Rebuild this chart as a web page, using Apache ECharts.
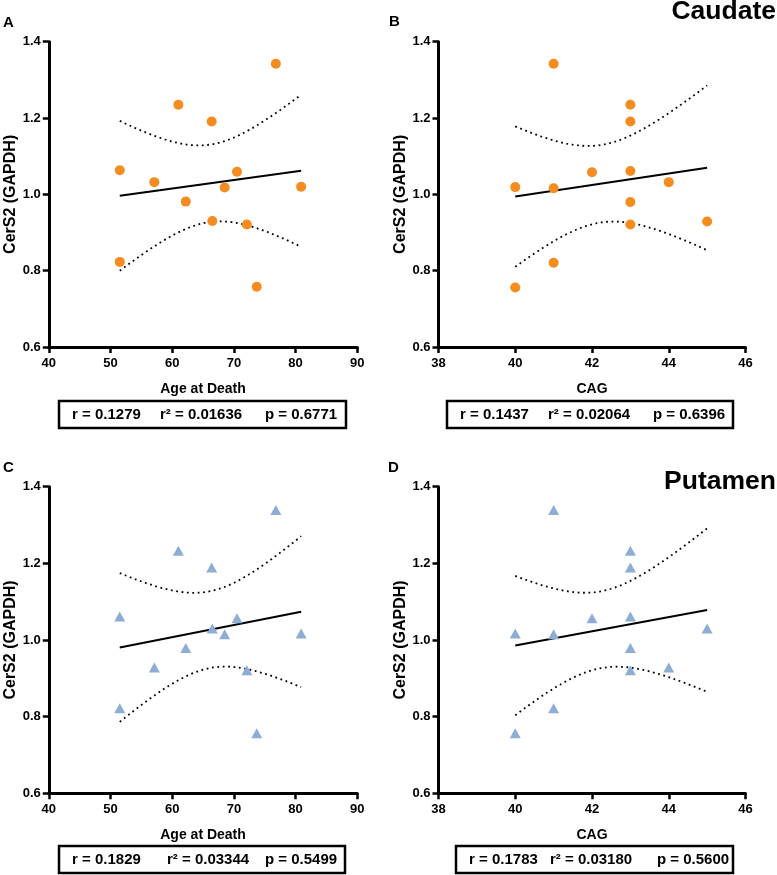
<!DOCTYPE html>
<html><head><meta charset="utf-8">
<script src="https://cdn.jsdelivr.net/npm/echarts@6/dist/echarts.min.js"></script>
<style>html,body{margin:0;padding:0;background:#fff}#c{width:777px;height:875px}</style>
</head><body><div id="c"></div>
<script>
// ---- data ----
const ageCaudate = [51.5, 51.5, 57.1, 61.0, 62.2, 66.4, 66.5, 68.5, 70.5, 72.1, 73.7, 76.8, 80.9];
const cers2CaudateByAge = [1.063, 0.823, 1.032, 1.235, 0.981, 1.191, 0.930, 1.018, 1.059, 0.921, 0.758, 1.342, 1.020];
const cagCaudate = [40, 40, 41, 41, 41, 42, 43, 43, 43, 43, 43, 44, 45];
const cers2CaudateByCag = [1.019, 0.756, 1.342, 1.016, 0.821, 1.058, 1.235, 1.191, 1.061, 0.980, 0.921, 1.032, 0.929];
const agePutamen = [51.5, 51.5, 57.1, 61.0, 62.2, 66.4, 66.5, 68.5, 70.5, 72.1, 73.7, 76.8, 80.9];
const cers2PutamenByAge = [1.061, 0.822, 0.928, 1.233, 0.979, 1.189, 1.030, 1.015, 1.057, 0.921, 0.757, 1.339, 1.017];
const cagPutamen = [40, 40, 41, 41, 41, 42, 43, 43, 43, 43, 43, 44, 45];
const cers2PutamenByCag = [1.017, 0.757, 1.339, 1.015, 0.822, 1.057, 1.233, 1.189, 1.061, 0.979, 0.921, 0.928, 1.030];

const ageTicks = [40, 50, 60, 70, 80, 90];
const cagTicks = [38, 40, 42, 44, 46];
const yTicks = [0.6, 0.8, 1.0, 1.2, 1.4];

const panelLetters = ['A', 'B', 'C', 'D'];
const regionTitles = ['Caudate', 'Putamen'];
const xNames = ['Age at Death', 'CAG', 'Age at Death', 'CAG'];
const yName = 'CerS2 (GAPDH)';
const statR = ['0.1279', '0.1437', '0.1829', '0.1783'];
const statR2 = ['0.01636', '0.02064', '0.03344', '0.03180'];
const statP = ['0.6771', '0.6396', '0.5499', '0.5600'];
const tCrit = 2.201; // t(0.975, df = 11), 95% confidence band

// ---- linear regression + 95% CI band of the mean, computed from the data ----
function regress(xs, ys) {
  const n = xs.length;
  const mx = xs.reduce((a, b) => a + b, 0) / n;
  const my = ys.reduce((a, b) => a + b, 0) / n;
  let sxx = 0, sxy = 0;
  for (let i = 0; i < n; i++) { sxx += (xs[i] - mx) ** 2; sxy += (xs[i] - mx) * (ys[i] - my); }
  const b = sxy / sxx, a = my - b * mx;
  let sse = 0;
  for (let i = 0; i < n; i++) sse += (ys[i] - a - b * xs[i]) ** 2;
  const s = Math.sqrt(sse / (n - 2));
  const x0 = Math.min(...xs), x1 = Math.max(...xs);
  const fit = [[x0, a + b * x0], [x1, a + b * x1]];
  const up = [], lo = [];
  const steps = 60;
  for (let k = 0; k <= steps; k++) {
    const x = x0 + (x1 - x0) * k / steps;
    const yh = a + b * x;
    const h = tCrit * s * Math.sqrt(1 / n + (x - mx) ** 2 / sxx);
    up.push([x, yh + h]); lo.push([x, yh - h]);
  }
  return { fit, up, lo };
}

const FONT = '"Liberation Sans", Arial, sans-serif';
const orange = '#F68B1F';
const blue = '#8EADD5';

const panels = [
  { xs: ageCaudate, ys: cers2CaudateByAge, ticks: ageTicks, color: orange, symbol: 'circle', size: 10 },
  { xs: cagCaudate, ys: cers2CaudateByCag, ticks: cagTicks, color: orange, symbol: 'circle', size: 10 },
  { xs: agePutamen, ys: cers2PutamenByAge, ticks: ageTicks, color: blue, symbol: 'triangle', size: [11, 10] },
  { xs: cagPutamen, ys: cers2PutamenByCag, ticks: cagTicks, color: blue, symbol: 'triangle', size: [11, 10] }
];
const grids = [
  { left: 48.8, top: 41.7, width: 308.5, height: 305.3 },
  { left: 438.5, top: 41.7, width: 307, height: 305.3 },
  { left: 48.8, top: 486.7, width: 308.5, height: 306.6 },
  { left: 438.5, top: 486.7, width: 307, height: 306.6 }
];

const axisLineStyle = { color: '#000', width: 3 };
const xAxis = [], yAxis = [], series = [];
panels.forEach((p, i) => {
  const t = p.ticks;
  xAxis.push({
    type: 'value', gridIndex: i, min: t[0], max: t[t.length - 1], interval: t[1] - t[0],
    name: xNames[i], nameLocation: 'middle', nameGap: 35,
    nameTextStyle: { fontFamily: FONT, fontWeight: 'bold', fontSize: 14, color: '#000' },
    axisLine: { show: true, onZero: false, lineStyle: axisLineStyle },
    axisTick: { show: true, length: 6, lineStyle: { color: '#000', width: 2.5 } },
    axisLabel: { fontFamily: FONT, fontWeight: 'bold', fontSize: 13, color: '#000', margin: 10 },
    splitLine: { show: false }
  });
  yAxis.push({
    type: 'value', gridIndex: i, min: yTicks[0], max: yTicks[yTicks.length - 1], interval: 0.2,
    name: yName, nameLocation: 'middle', nameGap: 30, nameRotate: 90,
    nameTextStyle: { fontFamily: FONT, fontWeight: 'bold', fontSize: 16, color: '#000' },
    axisLine: { show: true, onZero: false, lineStyle: axisLineStyle },
    axisTick: { show: true, length: 6, lineStyle: { color: '#000', width: 2.5 } },
    axisLabel: { fontFamily: FONT, fontWeight: 'bold', fontSize: 13, color: '#000', margin: 8, formatter: v => v.toFixed(1) },
    splitLine: { show: false }
  });
  const r = regress(p.xs, p.ys);
  const dotStyle = { color: '#000', width: 1.8, type: [1.8, 3.6] };
  series.push({
    type: 'line', xAxisIndex: i, yAxisIndex: i, data: r.up, showSymbol: false, symbol: 'none', silent: true,
    lineStyle: dotStyle, z: 2
  });
  series.push({
    type: 'line', xAxisIndex: i, yAxisIndex: i, data: r.lo, showSymbol: false, symbol: 'none', silent: true,
    lineStyle: dotStyle, z: 2
  });
  series.push({
    type: 'line', xAxisIndex: i, yAxisIndex: i, data: r.fit, showSymbol: false, symbol: 'none', silent: true,
    lineStyle: { color: '#000', width: 2 }, z: 3
  });
  series.push({
    type: 'scatter', xAxisIndex: i, yAxisIndex: i,
    data: p.xs.map((x, k) => [x, p.ys[k]]),
    symbol: p.symbol, symbolSize: p.size,
    itemStyle: { color: p.color, opacity: 1 }, z: 4
  });
});

const graphic = [];
const letterPos = [[3, 23], [389, 22], [3, 468], [388, 468]];
panelLetters.forEach((L, i) => {
  graphic.push({ type: 'text', left: letterPos[i][0], top: letterPos[i][1] - 8,
    style: { text: L, font: 'bold 15px ' + FONT, fill: '#000' } });
});
graphic.push({ type: 'text', x: 776, y: 12,
  style: { text: regionTitles[0], font: 'bold 26.5px ' + FONT, fill: '#000', align: 'right', verticalAlign: 'middle' } });
graphic.push({ type: 'text', x: 776, y: 482,
  style: { text: regionTitles[1], font: 'bold 26.5px ' + FONT, fill: '#000', align: 'right', verticalAlign: 'middle' } });

const boxes = [
  { x: 59, y: 401, w: 287, h: 27, tx: [72, 160, 265] },
  { x: 447, y: 401, w: 286, h: 27, tx: [460, 548, 653] },
  { x: 59, y: 846, w: 286, h: 27, tx: [72, 167, 265] },
  { x: 456, y: 846, w: 277, h: 27, tx: [469, 550, 657] }
];
boxes.forEach((b, i) => {
  graphic.push({ type: 'rect', shape: { x: b.x, y: b.y, width: b.w, height: b.h },
    style: { fill: 'none', stroke: '#000', lineWidth: 2.5 } });
  const cy = b.y + b.h / 2 + 0.5;
  const txt = ['r = ' + statR[i], 'r\u00B2 = ' + statR2[i], 'p = ' + statP[i]];
  txt.forEach((s, k) => {
    graphic.push({ type: 'text', x: b.tx[k], y: cy,
      style: { text: s, font: 'bold 15px ' + FONT, fill: '#000', verticalAlign: 'middle' } });
  });
});

const chart = echarts.init(document.getElementById('c'), null, { renderer: 'canvas' });
chart.setOption({
  animation: false,
  backgroundColor: '#fff',
  grid: grids.map(g => Object.assign({ containLabel: false }, g)),
  xAxis, yAxis, series, graphic
});
</script>
</body></html>
